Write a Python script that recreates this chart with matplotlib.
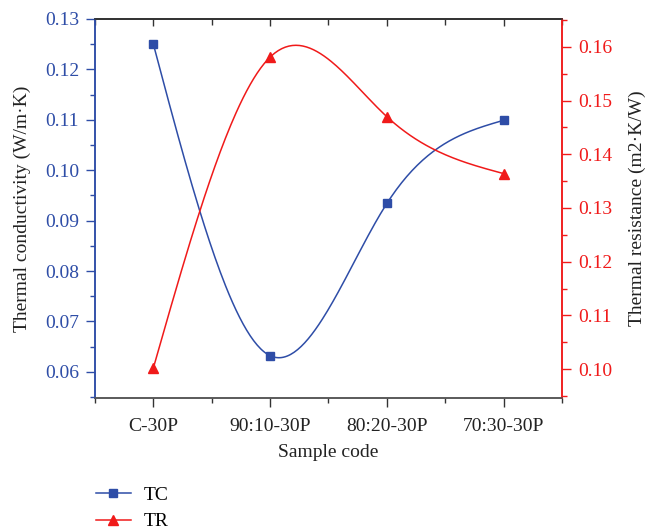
import numpy as np
import matplotlib
matplotlib.use("Agg")
import matplotlib.pyplot as plt
from matplotlib.ticker import MultipleLocator, FormatStrFormatter
from matplotlib.lines import Line2D

plt.rcParams['font.family'] = ['Liberation Serif', 'DejaVu Serif']

categories = ["C-30P", "90:10-30P", "80:20-30P", "70:30-30P"]
tc = [0.125, 0.0632, 0.0934, 0.1099]
tr = [0.1002, 0.1581, 0.1470, 0.1364]

BLUE = "#2E4DA7"
RED = "#F01A1A"


def natural_spline(x, y, n=200):
    x = np.asarray(x, float); y = np.asarray(y, float)
    k = len(x); h = np.diff(x)
    A = np.zeros((k, k)); b = np.zeros(k)
    A[0, 0] = 1; A[-1, -1] = 1
    for i in range(1, k - 1):
        A[i, i - 1] = h[i - 1]; A[i, i] = 2 * (h[i - 1] + h[i]); A[i, i + 1] = h[i]
        b[i] = 3 * ((y[i + 1] - y[i]) / h[i] - (y[i] - y[i - 1]) / h[i - 1])
    c = np.linalg.solve(A, b)
    xs = np.linspace(x[0], x[-1], n); ys = np.empty_like(xs)
    for j, xv in enumerate(xs):
        i = min(np.searchsorted(x, xv, side='right') - 1, k - 2)
        d = xv - x[i]
        bi = (y[i + 1] - y[i]) / h[i] - h[i] * (2 * c[i] + c[i + 1]) / 3
        di = (c[i + 1] - c[i]) / (3 * h[i])
        ys[j] = y[i] + bi * d + c[i] * d ** 2 + di * d ** 3
    return xs, ys


FS = 14

fig = plt.figure(figsize=(6.47, 5.30), dpi=100)
ax = fig.add_axes([0.1468, 0.249, 0.7218, 0.7152])
ax2 = ax.twinx()

x = np.arange(1, len(categories) + 1)
xs, ys = natural_spline(x, tc)
ax.plot(xs, ys, color=BLUE, lw=1.1)
ax.plot(x, tc, ls='none', marker='s', ms=6, color=BLUE)
xs2, ys2 = natural_spline(x, tr)
ax2.plot(xs2, ys2, color=RED, lw=1.1)
ax2.plot(x, tr, ls='none', marker='^', ms=7.5, color=RED)

ax.set_xlim(0.5, 4.5)
ax.set_xticks(x)
ax.set_xticklabels(categories)
ax.xaxis.set_minor_locator(MultipleLocator(0.5))
ax.set_ylim(0.0548, 0.13)
ax.yaxis.set_major_locator(MultipleLocator(0.01))
ax.yaxis.set_minor_locator(MultipleLocator(0.005))
ax.yaxis.set_major_formatter(FormatStrFormatter('%.2f'))
ax2.set_ylim(0.0946, 0.1652)
ax2.yaxis.set_major_locator(MultipleLocator(0.01))
ax2.yaxis.set_minor_locator(MultipleLocator(0.005))
ax2.yaxis.set_major_formatter(FormatStrFormatter('%.2f'))

for a in (ax, ax2):
    a.tick_params(which='major', direction='out', length=6.5, width=1, labelsize=FS, pad=5)
    a.tick_params(which='minor', direction='out', length=3.5, width=1)

ax.tick_params(axis='y', which='both', colors=BLUE, labelcolor=BLUE)
ax2.tick_params(axis='y', which='both', colors=RED, labelcolor=RED)
ax.tick_params(axis='x', which='both', colors='#333333', labelcolor='#222222')
ax.tick_params(axis='x', which='major', pad=8)

# inward ticks on the top spine
top = ax.secondary_xaxis('top')
top.set_xticks(x)
top.xaxis.set_minor_locator(MultipleLocator(0.5))
top.tick_params(which='major', direction='in', length=5, width=1, colors='#333333', labeltop=False)
top.tick_params(which='minor', direction='in', length=4, width=1, colors='#333333')
top.spines['top'].set_color('#333333')
top.spines['top'].set_linewidth(1.1)

for a in (ax, ax2):
    a.spines['left'].set_color(BLUE)
    a.spines['right'].set_color(RED)
    a.spines['top'].set_color('#333333')
    a.spines['bottom'].set_color('#555555')
    for s in a.spines.values():
        s.set_linewidth(1.1)

ax.set_xlabel("Sample code", fontsize=FS, color='#222222', labelpad=6)
ax.set_ylabel("Thermal conductivity (W/m·K)", fontsize=FS, color='#222222', labelpad=10)
ax2.set_ylabel("Thermal resistance (m2·K/W)", fontsize=FS, color='#222222', labelpad=12)

handles = [Line2D([], [], color=BLUE, lw=1.1, marker='s', ms=6),
           Line2D([], [], color=RED, lw=1.1, marker='^', ms=7.5)]
fig.legend(handles, ["TC", "TR"], loc='upper left', bbox_to_anchor=(0.136, 0.097),
           frameon=False, fontsize=FS, handlelength=1.8, labelspacing=0.45,
           handletextpad=0.65, borderaxespad=0)

fig.savefig("out.png", dpi=100)
